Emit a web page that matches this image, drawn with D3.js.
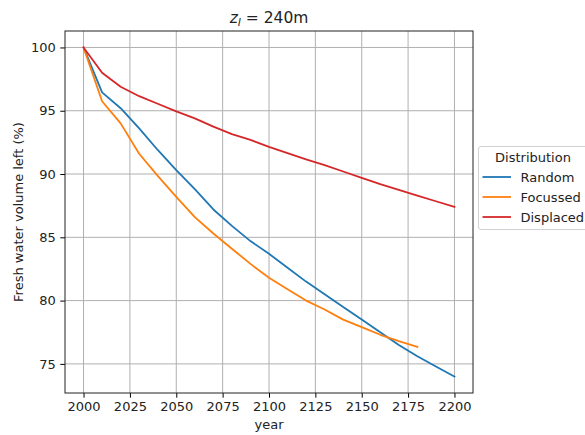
<!DOCTYPE html>
<html>
<head>
<meta charset="utf-8">
<script src="https://cdn.jsdelivr.net/npm/d3@7"></script>
<style>
  body { margin: 0; background: #fff; }
  svg { display: block; font-family: "DejaVu Sans", sans-serif; }
</style>
</head>
<body>
<svg id="chart" width="585" height="435"></svg>
<script>
const years = [2000, 2010, 2020, 2030, 2040, 2050, 2060, 2070, 2080, 2090, 2100,
               2110, 2120, 2130, 2140, 2150, 2160, 2170, 2180, 2190, 2200];
const randomVals = [100, 96.45, 95.2, 93.6, 91.9, 90.3, 88.8, 87.2, 85.9, 84.7, 83.7,
                    82.6, 81.5, 80.5, 79.5, 78.5, 77.5, 76.5, 75.6, 74.8, 74.0];
const focussedVals = [100, 95.75, 94.0, 91.6, 89.85, 88.2, 86.6, 85.3, 84.1, 82.9, 81.8,
                      80.9, 80.0, 79.3, 78.5, 77.9, 77.3, 76.8, 76.35];
const displacedVals = [100, 98.0, 96.9, 96.15, 95.55, 94.95, 94.4, 93.75, 93.15, 92.7, 92.15,
                       91.65, 91.15, 90.7, 90.2, 89.7, 89.2, 88.75, 88.3, 87.85, 87.4];
const seriesNames = ["Random", "Focussed", "Displaced"];
const seriesColors = ["#1f77b4", "#ff7f0e", "#d62728"];
const xTicks = [2000, 2025, 2050, 2075, 2100, 2125, 2150, 2175, 2200];
const yTicks = [75, 80, 85, 90, 95, 100];

const series = [randomVals, focussedVals, displacedVals].map((vals, i) => ({
  name: seriesNames[i], color: seriesColors[i],
  points: vals.map((v, j) => [years[j], v])
}));

const svg = d3.select("#chart");
const m = { left: 65, right: 473, top: 31, bottom: 393 };
const fs = "13px";

const x = d3.scaleLinear().domain([1990, 2210]).range([m.left, m.right]);
const y = d3.scaleLinear().domain([72.7, 101.3]).range([m.bottom, m.top]);

// grid
const grid = svg.append("g");
grid.selectAll(".gx").data(xTicks).enter().append("line")
  .attr("x1", d => x(d)).attr("x2", d => x(d))
  .attr("y1", m.top).attr("y2", m.bottom)
  .attr("stroke", "#b0b0b0").attr("stroke-width", 1);
grid.selectAll(".gy").data(yTicks).enter().append("line")
  .attr("x1", m.left).attr("x2", m.right)
  .attr("y1", d => y(d)).attr("y2", d => y(d))
  .attr("stroke", "#b0b0b0").attr("stroke-width", 1);

// lines
const line = d3.line().x(d => x(d[0])).y(d => y(d[1]));
svg.append("clipPath").attr("id", "clip").append("rect")
  .attr("x", m.left).attr("y", m.top).attr("width", m.right - m.left).attr("height", m.bottom - m.top);
svg.append("g").attr("clip-path", "url(#clip)")
  .selectAll("path").data(series).enter().append("path")
  .attr("d", d => line(d.points))
  .attr("fill", "none").attr("stroke", d => d.color)
  .attr("stroke-width", 1.8).attr("stroke-linejoin", "round").attr("stroke-linecap", "square");

// axes
const xAxis = d3.axisBottom(x).tickValues(xTicks).tickFormat(d3.format("d")).tickSizeOuter(0).tickSize(4.7).tickPadding(4.5);
const yAxis = d3.axisLeft(y).tickValues(yTicks).tickFormat(d3.format("d")).tickSizeOuter(0).tickSize(4.7).tickPadding(4.5);
const gx = svg.append("g").attr("transform", `translate(0,${m.bottom})`).call(xAxis);
const gy = svg.append("g").attr("transform", `translate(${m.left},0)`).call(yAxis);
[gx, gy].forEach(g => {
  g.select(".domain").remove();
  g.selectAll(".tick line").attr("stroke", "#000").attr("stroke-width", 1);
  g.selectAll(".tick text").attr("fill", "#222").style("font-size", fs).style("font-family", "DejaVu Sans");
});

// frame
svg.append("rect").attr("x", m.left).attr("y", m.top)
  .attr("width", m.right - m.left).attr("height", m.bottom - m.top)
  .attr("fill", "none").attr("stroke", "#222").attr("stroke-width", 1);

// title
const title = svg.append("text").attr("x", (m.left + m.right) / 2).attr("y", 23.3)
  .attr("text-anchor", "middle").style("font-size", "15.5px").attr("fill", "#222");
title.append("tspan").text("z").style("font-style", "italic");
title.append("tspan").text("l").style("font-style", "italic").style("font-size", "11px").attr("dy", 3);
title.append("tspan").text(" = 240m").attr("dy", -3);

// axis labels
svg.append("text").attr("x", (m.left + m.right) / 2).attr("y", 428.5)
  .attr("text-anchor", "middle").style("font-size", fs).attr("fill", "#222").text("year");
svg.append("text").attr("transform", `translate(23,${(m.top + m.bottom) / 2}) rotate(-90)`)
  .attr("text-anchor", "middle").style("font-size", fs).attr("fill", "#222")
  .text("Fresh water volume left (%)");

// legend
const lg = svg.append("g");
lg.append("rect").attr("x", 478.5).attr("y", 146.5).attr("width", 112).attr("height", 83)
  .attr("rx", 2.5).attr("fill", "#fff").attr("fill-opacity", 0.8).attr("stroke", "#d0d0d0").attr("stroke-width", 1);
lg.append("text").attr("x", 533).attr("y", 162).attr("text-anchor", "middle")
  .style("font-size", fs).attr("fill", "#222").text("Distribution");
series.forEach((s, i) => {
  const yy = 177 + i * 20;
  lg.append("line").attr("x1", 482.5).attr("x2", 511).attr("y1", yy).attr("y2", yy)
    .attr("stroke", s.color).attr("stroke-width", 1.8);
  lg.append("text").attr("x", 520.5).attr("y", yy + 4.7).style("font-size", fs)
    .attr("fill", "#222").text(s.name);
});
</script>
</body>
</html>
